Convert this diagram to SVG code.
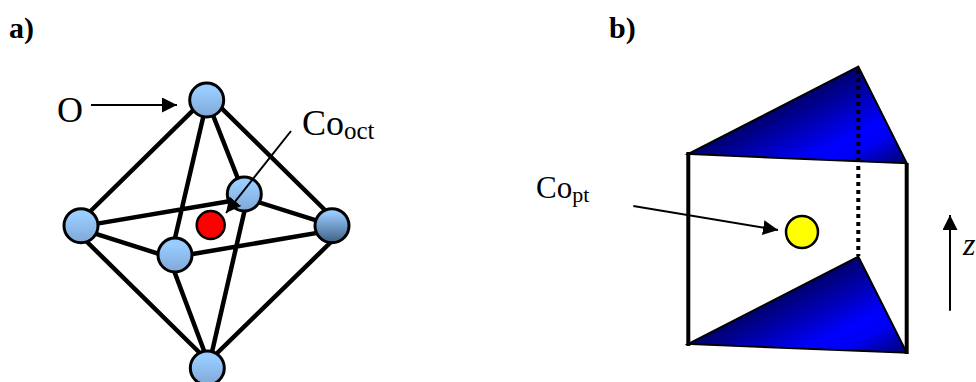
<svg xmlns="http://www.w3.org/2000/svg" width="976" height="382" viewBox="0 0 976 382">
<style>
text{font-family:"Liberation Serif","Times New Roman",serif;fill:#000}
.lab{font-size:30px;font-weight:bold}
.big{font-size:36px}
.sm{font-size:25px}
.edge{stroke:#000;stroke-width:4.5;fill:none}
.thin{stroke:#000;stroke-width:2;fill:none}
.atom{stroke:#000;stroke-width:3;fill:url(#blue)}
.tri{stroke:#000;stroke-width:2}
.side{stroke:#000;stroke-width:4;fill:none}
</style>
<defs>
<linearGradient id="blue" x1="0" y1="0" x2="0" y2="1"><stop offset="0.2" stop-color="#99ccff"/><stop offset="1" stop-color="#7fa8d6"/></linearGradient>
<linearGradient id="dark" x1="0" y1="0" x2="0" y2="1"><stop offset="0.1" stop-color="#99ccff"/><stop offset="1" stop-color="#3f5f85"/></linearGradient>
<linearGradient id="navy" gradientUnits="userSpaceOnUse" x1="858" y1="67" x2="906.7" y2="162"><stop offset="0" stop-color="#00006e"/><stop offset="0.55" stop-color="#0000ff"/><stop offset="0.7" stop-color="#0000f5"/><stop offset="1" stop-color="#00006e"/></linearGradient>
<linearGradient id="navy2" href="#navy" gradientTransform="translate(0 190)"/>
<marker id="ah" markerUnits="userSpaceOnUse" markerWidth="16" markerHeight="16" refX="15" refY="7.5" orient="auto"><path d="M0 0L15 7.5L0 15Z" fill="#000"/></marker>
</defs>
<text class="lab" x="9" y="38">a)</text>
<text class="lab" x="609" y="38">b)</text>
<g id="connectors">
<path class="edge" d="M81 220.5L207 96.6M207 100.8L175 238M207 100L244 194M207 93.8L332 217M81 226.4L244 198.7M81 229.2L175 259M332 225.4L244 197.6M332 230.4L175 257M81 236L207 360M170 260L209 364M211.7 353.3L247 200M207 363L332 241"/>
</g>
<g id="atom-top"><circle class="atom" cx="206.7" cy="100" r="17"/></g>
<g id="atom-left"><circle class="atom" cx="81" cy="225.7" r="17"/></g>
<g id="atom-right"><circle class="atom" cx="332" cy="225.7" r="17" style="fill:url(#dark)"/></g>
<g id="atom-front"><circle class="atom" cx="175" cy="255" r="17"/></g>
<g id="atom-back"><circle class="atom" cx="244.3" cy="194" r="17"/></g>
<g id="atom-bottom"><circle class="atom" cx="207.3" cy="368" r="17"/></g>
<g id="co-oct"><circle cx="210.7" cy="225" r="14" fill="#ff0000" stroke="#000" stroke-width="2.5"/></g>
<g id="prism">
<path class="tri" fill="url(#navy)" d="M858.3 66.7L688.3 154L906.7 163.3Z"/>
<path class="tri" fill="url(#navy2)" d="M858.3 256.7L688.3 344L906.7 352.7Z"/>
<path class="side" d="M688.3 152V346M906.7 163V354"/>
<path d="M858.3 70V256" stroke="#000" stroke-width="4" stroke-dasharray="4 4" fill="none"/>
</g>
<g id="co-pt"><circle cx="802" cy="232" r="16" fill="#ffff00" stroke="#000" stroke-width="2.5"/></g>
<g id="arrows">
<path class="thin" marker-end="url(#ah)" d="M91 105H177"/>
<path class="thin" marker-end="url(#ah)" d="M291 131L226 213"/>
<path class="thin" marker-end="url(#ah)" d="M633.3 206L778 230"/>
<path class="thin" marker-end="url(#ah)" d="M950 310.7V215"/>
</g>
<g id="labels">
<text class="big" x="57" y="122">O</text>
<text class="big" x="302" y="135">Co<tspan class="sm" dy="4">oct</tspan></text>
<text x="536" y="198" style="font-size:31px">Co<tspan style="font-size:22px" dy="4">pt</tspan></text>
<text x="963" y="255" style="font-size:32px;font-style:italic">z</text>
</g>
</svg>
